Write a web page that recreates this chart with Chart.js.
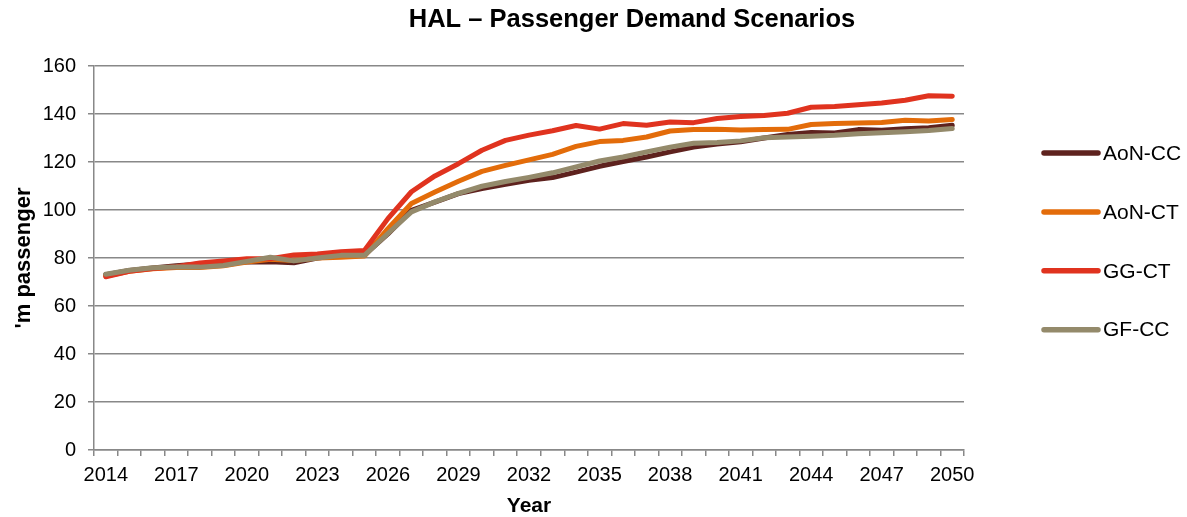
<!DOCTYPE html>
<html>
<head>
<meta charset="utf-8">
<title>HAL – Passenger Demand Scenarios</title>
<script src="https://cdn.jsdelivr.net/npm/chart.js@4.4.1/dist/chart.umd.min.js"></script>
<style>
    html, body { margin: 0; padding: 0; background: #fff; }
    #wrap { width: 1187px; height: 517px; position: relative; }
</style>
</head>
<body>
<div id="wrap"><canvas id="demandChart" width="1187" height="517"></canvas></div>
<script>
// Chart data
const years = [2014, 2015, 2016, 2017, 2018, 2019, 2020, 2021, 2022, 2023, 2024, 2025, 2026,
    2027, 2028, 2029, 2030, 2031, 2032, 2033, 2034, 2035, 2036, 2037, 2038, 2039, 2040,
    2041, 2042, 2043, 2044, 2045, 2046, 2047, 2048, 2049, 2050];

const seriesNames = ['AoN-CC', 'AoN-CT', 'GG-CT', 'GF-CC'];

const aonCC = [73.0, 74.8, 75.8, 76.8, 77.5, 77.8, 78.3, 78.4, 78.0, 80.0, 81.0, 81.2, 90.0,
    99.9, 103.3, 106.8, 108.9, 110.7, 112.4, 113.5, 115.8, 118.2, 120.2, 122.1, 124.2, 126.2, 127.5,
    128.4, 130.0, 131.5, 132.3, 132.1, 133.5, 133.2, 133.9, 134.3, 135.3];

const aonCT = [72.5, 74.5, 75.5, 76.0, 76.0, 76.8, 78.3, 79.5, 79.0, 80.0, 80.3, 80.8, 92.2,
    102.7, 107.5, 112.0, 116.1, 118.6, 120.9, 123.2, 126.5, 128.5, 129.0, 130.4, 132.9, 133.5, 133.6,
    133.3, 133.5, 133.6, 135.6, 136.0, 136.2, 136.5, 137.4, 137.1, 137.7];

const ggCT = [72.2, 74.5, 75.6, 76.4, 77.9, 78.8, 79.7, 79.7, 81.3, 81.7, 82.6, 83.1, 96.4,
    107.6, 114.2, 119.3, 124.9, 129.0, 131.2, 133.0, 135.2, 133.7, 136.0, 135.3, 136.7, 136.4, 138.1,
    139.0, 139.4, 140.3, 142.8, 143.1, 143.9, 144.6, 145.7, 147.6, 147.4];

const gfCC = [73.2, 74.9, 75.9, 76.3, 76.2, 76.9, 78.6, 80.3, 78.8, 80.0, 81.1, 81.1, 90.2,
    99.2, 103.4, 106.9, 109.9, 111.9, 113.6, 115.5, 118.0, 120.4, 122.1, 124.2, 126.2, 127.8, 128.1,
    128.8, 130.1, 130.4, 130.7, 131.1, 131.8, 132.2, 132.6, 133.1, 134.0];

const seriesColors = ['#5e221e', '#e36c0a', '#e0331f', '#948a6b'];

const yTicks = [0, 20, 40, 60, 80, 100, 120, 140, 160];

const FONT = "'Liberation Sans', Arial, Helvetica, sans-serif";
const GRID = '#888888';

// Title + right-hand legend, placed like the original sheet
const sheetLabels = {
    id: 'sheetLabels',
    afterDraw(chart) {
        const ctx = chart.ctx;
        const area = chart.chartArea;
        ctx.save();

        ctx.fillStyle = '#000';
        ctx.font = 'bold 25.5px ' + FONT;
        ctx.textAlign = 'center';
        ctx.textBaseline = 'middle';
        ctx.fillText('HAL \u2013 Passenger Demand Scenarios', 632, 20);

        // legend
        ctx.font = '21px ' + FONT;
        ctx.textAlign = 'left';
        chart.data.datasets.forEach((ds, i) => {
            const y = 153 + i * 58.9;
            const x0 = area.right + 80;
            ctx.strokeStyle = ds.borderColor;
            ctx.lineWidth = 5.5;
            ctx.lineCap = 'round';
            ctx.beginPath();
            ctx.moveTo(x0, y);
            ctx.lineTo(x0 + 54, y);
            ctx.stroke();
            ctx.fillStyle = '#000';
            ctx.fillText(ds.label, x0 + 59, y + 1);
        });
        ctx.restore();
    }
};

function makeDataset(name, values, color, order) {
    return {
        label: name,
        data: values,
        borderColor: color,
        backgroundColor: color,
        borderWidth: 5,
        borderCapStyle: 'round',
        borderJoinStyle: 'round',
        pointRadius: 0,
        pointHoverRadius: 0,
        tension: 0,
        fill: false,
        order: order
    };
}

function initChart() {
    const ctx = document.getElementById('demandChart').getContext('2d');
    new Chart(ctx, {
        type: 'line',
        data: {
            labels: years.map(String),
            datasets: [
                makeDataset(seriesNames[0], aonCC, seriesColors[0], 3),
                makeDataset(seriesNames[1], aonCT, seriesColors[1], 2),
                makeDataset(seriesNames[2], ggCT, seriesColors[2], 1),
                makeDataset(seriesNames[3], gfCC, seriesColors[3], 0)
            ]
        },
        options: {
            responsive: false,
            animation: false,
            devicePixelRatio: 1,
            layout: {
                padding: { top: 66, right: 223, bottom: 0, left: 0 }
            },
            plugins: {
                legend: { display: false },
                title: { display: false },
                tooltip: { enabled: false }
            },
            scales: {
                x: {
                    type: 'category',
                    offset: true,
                    grid: {
                        offset: true,
                        drawOnChartArea: false,
                        drawTicks: true,
                        tickLength: 6,
                        color: GRID,
                        lineWidth: 1.5
                    },
                    border: { display: true, color: GRID, width: 1.5 },
                    ticks: {
                        autoSkip: false,
                        maxRotation: 0,
                        minRotation: 0,
                        padding: 7,
                        color: '#000',
                        font: { family: FONT, size: 20 },
                        callback: function(value, index) {
                            return index % 3 === 0 ? years[index] : '';
                        }
                    },
                    title: {
                        display: true,
                        text: 'Year',
                        color: '#000',
                        padding: { top: 0, bottom: 0 },
                        font: { family: FONT, size: 21, weight: 'bold', lineHeight: 1 }
                    },
                    afterFit: function(scale) {
                        scale.height = 67;
                    }
                },
                y: {
                    min: 0,
                    max: 160,
                    afterBuildTicks: function(scale) {
                        scale.ticks = yTicks.map(v => ({ value: v }));
                    },
                    grid: {
                        color: GRID,
                        lineWidth: 1.5,
                        drawTicks: true,
                        tickLength: 6
                    },
                    border: { display: true, color: GRID, width: 1.5 },
                    ticks: {
                        padding: 12,
                        color: '#000',
                        font: { family: FONT, size: 20 }
                    },
                    title: {
                        display: true,
                        text: "'m passenger",
                        color: '#000',
                        padding: { top: 11, bottom: 0 },
                        font: { family: FONT, size: 22, weight: 'bold' }
                    },
                    afterFit: function(scale) {
                        scale.width = 94;
                    }
                }
            }
        },
        plugins: [sheetLabels]
    });
}

document.addEventListener('DOMContentLoaded', initChart);
</script>
</body>
</html>
